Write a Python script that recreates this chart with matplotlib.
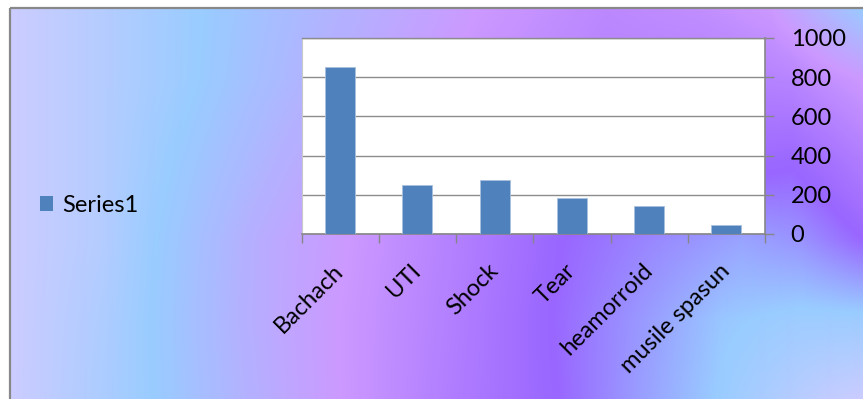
import numpy as np
import matplotlib
matplotlib.use("Agg")
import matplotlib.pyplot as plt
from matplotlib.patches import Patch

# Chart data
categories = ["Bachach", "UTI", "Shock", "Tear", "heamorroid", "musile spasun"]
values = [850, 250, 275, 182, 145, 46]
series_name = "Series1"
y_ticks = [0, 200, 400, 600, 800, 1000]

W, H = 863, 399
FS = 17
plt.rcParams['font.family'] = ['Lato', 'DejaVu Sans']
fig = plt.figure(figsize=(W / 100, H / 100), dpi=100)

# ---- gradient backdrop -------------------------------------------------
# colour ramp (position, rgb)
ramp_pos = [0.0, 0.18, 0.42, 0.66, 0.84, 1.0]
ramp_rgb = np.array([
    [204, 204, 255],
    [153, 204, 255],
    [204, 153, 255],
    [153, 102, 255],
    [153, 204, 255],
    [204, 204, 255],
]) / 255.0

# ramp coordinate along a few horizontal scanlines (pixel y -> list of (x, t))
scan_rows = {
    8:   [(10, 0.0), (100, 0.08), (204, 0.18), (300, 0.27), (400, 0.35), (479, 0.42),
          (605, 0.50), (700, 0.47), (770, 0.42), (825, 0.28), (863, 0.18)],
    80:  [(10, 0.0), (100, 0.08), (190, 0.17), (300, 0.29), (480, 0.45), (600, 0.52),
          (720, 0.54), (790, 0.52), (830, 0.46), (863, 0.42)],
    160: [(10, 0.0), (100, 0.08), (165, 0.17), (280, 0.31), (500, 0.52), (700, 0.62),
          (790, 0.65), (830, 0.60), (863, 0.55)],
    240: [(10, 0.0), (100, 0.08), (150, 0.17), (260, 0.33), (340, 0.41), (450, 0.53),
          (560, 0.66), (650, 0.72), (740, 0.77), (800, 0.74), (863, 0.66)],
    320: [(10, 0.0), (100, 0.10), (145, 0.17), (250, 0.32), (330, 0.41), (450, 0.54),
          (550, 0.66), (650, 0.76), (720, 0.83), (800, 0.86), (863, 0.86)],
    399: [(10, 0.0), (100, 0.11), (154, 0.18), (250, 0.31), (341, 0.42), (450, 0.55),
          (556, 0.66), (640, 0.76), (715, 0.84), (825, 0.97), (863, 1.0)],
}

px = np.arange(W)
row_y = np.array(sorted(scan_rows))
row_t = np.array([np.interp(px, [p[0] for p in scan_rows[y]], [p[1] for p in scan_rows[y]])
                  for y in row_y])
# blend the scanlines vertically
T = np.empty((H, W))
for yy in range(H):
    j = np.clip(np.searchsorted(row_y, yy) - 1, 0, len(row_y) - 2)
    w = np.clip((yy - row_y[j]) / (row_y[j + 1] - row_y[j]), 0.0, 1.0)
    T[yy] = (1 - w) * row_t[j] + w * row_t[j + 1]

img = np.dstack([np.interp(T, ramp_pos, ramp_rgb[:, c]) for c in range(3)])
img[:8, :, :] = 1.0
img[:, :10, :] = 1.0

bg = fig.add_axes([0, 0, 1, 1], zorder=0)
bg.imshow(img, extent=(0, W, H, 0), interpolation='bilinear', aspect='auto')
bg.set_xlim(0, W)
bg.set_ylim(H, 0)
bg.axis('off')
# outer frame
bg.plot([10, 10], [8, H], color='#888888', lw=1.6, solid_capstyle='butt')
bg.plot([10, W], [8, 8], color='#888888', lw=1.6, solid_capstyle='butt')

# ---- bar chart ---------------------------------------------------------
left, right, top, bottom = 301.5, 765, 38, 234
ax = fig.add_axes([left / W, 1 - bottom / H, (right - left) / W, (bottom - top) / H], zorder=1)
ax.set_facecolor('white')

x = np.arange(len(categories))
ax.bar(x, values, width=0.39, color='#4F81BD', edgecolor='#a9c0dd', linewidth=0.6,
       zorder=3, label=series_name)

ax.set_xlim(-0.5, len(categories) - 0.5)
ax.set_ylim(0, 1000)
ax.set_yticks(y_ticks)
ax.yaxis.tick_right()
ax.yaxis.grid(True, color='#8c8c8c', lw=1.0)
ax.set_axisbelow(True)

ax.spines['left'].set_color('#c8c8c8')
ax.spines['left'].set_linewidth(0.8)
ax.spines['top'].set_color('#8c8c8c')
ax.spines['top'].set_linewidth(1.0)
for s in ('right', 'bottom'):
    ax.spines[s].set_color('#868686')
    ax.spines[s].set_linewidth(1.2)

ax.tick_params(axis='y', which='major', direction='out', length=6.5, width=1,
               color='#868686', pad=12, labelsize=FS, labelcolor='black')

ax.set_xticks(x)
ax.set_xticklabels(categories, rotation=45, ha='right', va='center',
                   rotation_mode='anchor', fontsize=FS, color='black')
ax.tick_params(axis='x', which='major', length=0, pad=24)
ax.set_xticks(np.arange(-0.5, len(categories), 1.0), minor=True)
ax.tick_params(axis='x', which='minor', direction='out', length=6.5, width=1,
               color='#868686')

ax.legend(handles=[Patch(facecolor='#4F81BD', label=series_name)],
          loc='center left', bbox_to_anchor=(40 / W, 1 - 205 / H),
          bbox_transform=fig.transFigure, frameon=False, fontsize=FS,
          handlelength=0.55, handleheight=0.6, handletextpad=0.38,
          borderpad=0, borderaxespad=0)

fig.savefig('out.png', dpi=100)
